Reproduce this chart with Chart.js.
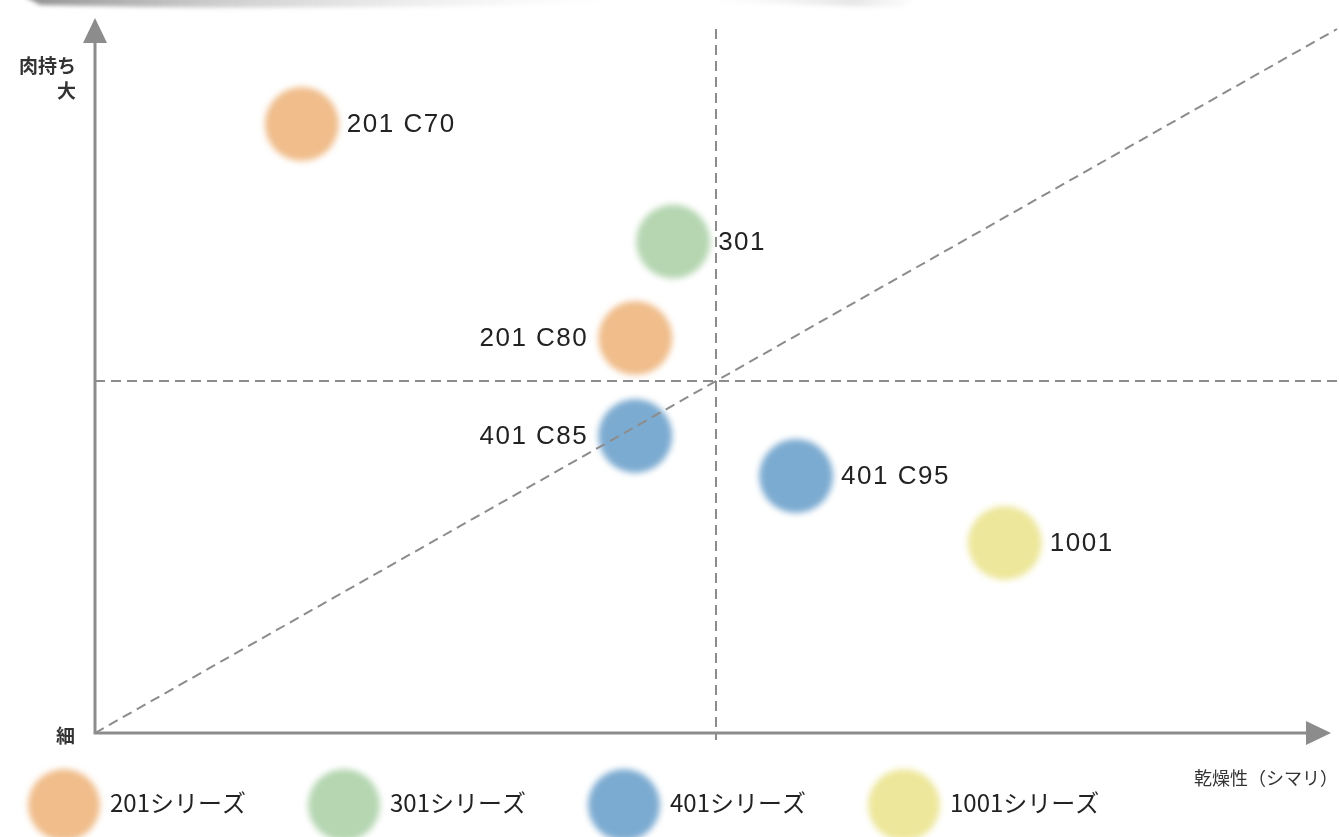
<!DOCTYPE html>
<html>
<head>
<meta charset="utf-8">
<script src="https://cdn.jsdelivr.net/npm/chart.js@4"></script>
<style>
  html, body { margin: 0; padding: 0; background: #fff; }
</style>
</head>
<body>
<canvas id="chart" width="1339" height="837"></canvas>
<script>
// series (legend order)
const seriesNames = ['201シリーズ', '301シリーズ', '401シリーズ', '1001シリーズ'];
const seriesColors = ['#f0bd8b', '#b5d6b1', '#7cabd1', '#ede79b'];

// points per series: -10..10 on both axes, 0 = centre cross
const pointNames = [['201 C70', '201 C80'], ['301'], ['401 C85', '401 C95'], ['1001']];
const xValues = [[-6.67, -1.30], [-0.69], [-1.30, 1.29], [4.65]];
const yValues = [[7.30, 1.22], [3.96], [-1.56, -2.70], [-4.60]];

const xAxisTitle = '乾燥性（シマリ）';
const yAxisTitle = ['肉持ち', '大'];
const originTitle = '細';
const axisMin = -10;
const axisMax = 10;

// labels that sit on the left of their bubble
const leftLabels = ['201 C80', '401 C85'];

const BUBBLE_R = 37;
const GREY = '#8c8c8c';

const datasets = seriesNames.map((name, i) => ({
  label: name,
  data: xValues[i].map((x, j) => ({ x: x, y: yValues[i][j], name: pointNames[i][j] })),
  backgroundColor: seriesColors[i],
  borderWidth: 0,
  pointRadius: BUBBLE_R,
  pointHoverRadius: BUBBLE_R,
  clip: false
}));

const chartDecor = {
  id: 'chartDecor',
  beforeDraw(chart) {
    const ctx = chart.ctx;
    // brush smudge along the top edge
    ctx.save();
    ctx.filter = 'blur(2px)';
    let g = ctx.createLinearGradient(30, 0, 620, 0);
    g.addColorStop(0, 'rgba(110,110,110,0.75)');
    g.addColorStop(0.3, 'rgba(150,150,150,0.5)');
    g.addColorStop(1, 'rgba(220,220,220,0)');
    ctx.fillStyle = g;
    ctx.beginPath();
    ctx.moveTo(20, -6);
    ctx.lineTo(620, -6);
    ctx.lineTo(600, 3);
    ctx.quadraticCurveTo(300, 11, 40, 5);
    ctx.closePath();
    ctx.fill();
    g = ctx.createLinearGradient(700, 0, 920, 0);
    g.addColorStop(0, 'rgba(225,225,225,0)');
    g.addColorStop(0.7, 'rgba(215,215,215,0.6)');
    g.addColorStop(1, 'rgba(225,225,225,0)');
    ctx.fillStyle = g;
    ctx.beginPath();
    ctx.moveTo(690, -6);
    ctx.lineTo(930, -6);
    ctx.lineTo(900, 7);
    ctx.quadraticCurveTo(800, 6, 700, 0);
    ctx.closePath();
    ctx.fill();
    ctx.restore();
  },
  beforeDatasetsDraw(chart) {
    chart.ctx.save();
    chart.ctx.filter = 'blur(3px)';
  },
  afterDatasetsDraw(chart) {
    const ctx = chart.ctx;
    ctx.restore();

    const xs = chart.scales.x, ys = chart.scales.y;
    const x0 = xs.getPixelForValue(axisMin), y0 = ys.getPixelForValue(axisMin);
    const xc = xs.getPixelForValue(0), yc = ys.getPixelForValue(0);
    const x1 = xs.getPixelForValue(axisMax), y1 = ys.getPixelForValue(axisMax);

    // dashed guides
    ctx.save();
    ctx.strokeStyle = GREY;
    ctx.lineWidth = 2;
    ctx.setLineDash([10, 6]);
    ctx.beginPath();
    ctx.moveTo(xc, y1);
    ctx.lineTo(xc, y0 + 7);
    ctx.moveTo(x0, yc);
    ctx.lineTo(chart.width, yc);
    ctx.moveTo(x0, y0);
    ctx.lineTo(x1, y1);
    ctx.stroke();
    ctx.restore();

    // axes with arrow heads
    ctx.save();
    ctx.strokeStyle = GREY;
    ctx.fillStyle = GREY;
    ctx.lineWidth = 3;
    ctx.beginPath();
    ctx.moveTo(x0, 42);
    ctx.lineTo(x0, y0);
    ctx.lineTo(1308, y0);
    ctx.stroke();
    ctx.beginPath();
    ctx.moveTo(x0, 18);
    ctx.lineTo(x0 + 12, 43);
    ctx.lineTo(x0 - 12, 43);
    ctx.closePath();
    ctx.fill();
    ctx.beginPath();
    ctx.moveTo(1331, y0);
    ctx.lineTo(1306, y0 - 12);
    ctx.lineTo(1306, y0 + 12);
    ctx.closePath();
    ctx.fill();
    ctx.restore();

    // point labels
    ctx.save();
    ctx.font = '26px "Liberation Sans", Arial, sans-serif';
    ctx.letterSpacing = '1.5px';
    ctx.fillStyle = '#222';
    ctx.textBaseline = 'middle';
    chart.data.datasets.forEach((ds, i) => {
      const meta = chart.getDatasetMeta(i);
      meta.data.forEach((el, j) => {
        const name = ds.data[j].name;
        if (leftLabels.includes(name)) {
          ctx.textAlign = 'right';
          ctx.fillText(name, el.x - BUBBLE_R - 10, el.y + 1);
        } else {
          ctx.textAlign = 'left';
          ctx.fillText(name, el.x + BUBBLE_R + 8, el.y + 1);
        }
      });
    });
    ctx.restore();

    // axis titles
    ctx.save();
    ctx.fillStyle = '#333';
    ctx.font = 'bold 19px "Noto Sans CJK JP", sans-serif';
    ctx.textBaseline = 'middle';
    ctx.textAlign = 'right';
    ctx.fillText(yAxisTitle[0], 76, 66);
    ctx.fillText(yAxisTitle[1], 76, 91);
    ctx.fillText(originTitle, 75, 736);
    ctx.font = '18px "Noto Sans CJK JP", sans-serif';
    ctx.fillText(xAxisTitle, 1338, 778);
    ctx.restore();
  },
  afterDraw(chart) {
    // legend row along the bottom
    const ctx = chart.ctx;
    seriesNames.forEach((name, i) => {
      const cx = 64 + 280 * i, cy = 805;
      ctx.save();
      ctx.filter = 'blur(3px)';
      ctx.fillStyle = seriesColors[i];
      ctx.beginPath();
      ctx.arc(cx, cy, 36, 0, Math.PI * 2);
      ctx.fill();
      ctx.restore();
      ctx.save();
      ctx.fillStyle = '#222';
      ctx.font = '24px "Noto Sans CJK JP", sans-serif';
      ctx.textBaseline = 'middle';
      ctx.textAlign = 'left';
      ctx.fillText(name, cx + 46, 803);
      ctx.restore();
    });
  }
};

const config = {
  type: 'scatter',
  data: { datasets: datasets },
  options: {
    responsive: false,
    animation: false,
    devicePixelRatio: 1,
    layout: {
      autoPadding: false,
      padding: { left: 95, right: 2, top: 29, bottom: 104 }
    },
    scales: {
      x: { type: 'linear', min: axisMin, max: axisMax, display: false },
      y: { type: 'linear', min: axisMin, max: axisMax, display: false }
    },
    plugins: {
      legend: { display: false },
      tooltip: { enabled: false }
    },
    events: []
  },
  plugins: [chartDecor]
};

const chart = new Chart(document.getElementById('chart'), config);
</script>
</body>
</html>
